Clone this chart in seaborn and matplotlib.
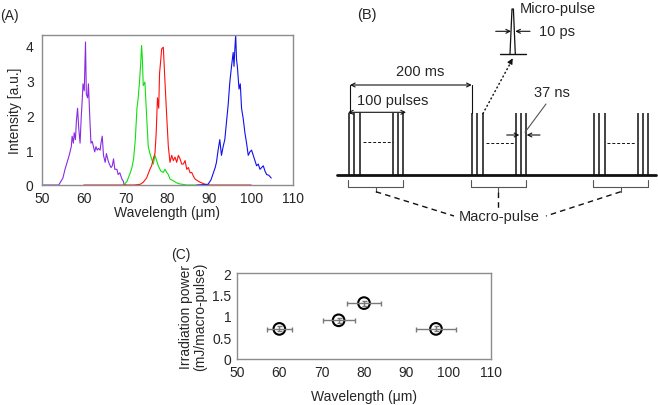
import numpy as np
import pandas as pd
import matplotlib
matplotlib.use("Agg")
import matplotlib.pyplot as plt
import seaborn as sns

sns.set_style("white")
plt.rcParams['font.family'] = ['Liberation Sans', 'DejaVu Sans']
plt.rcParams['font.size'] = 10

# ---- panel A: spectra
purple_wl = [50, 54, 54.4, 55, 55.5, 56, 56.5, 57, 57.2, 57.5, 57.7, 58, 58.2, 58.5, 58.8, 59.1, 59.4, 59.6, 59.8, 60.1, 60.4,
             60.6, 60.9, 61.1, 61.4, 61.7, 62.0, 62.3, 62.6, 62.9, 63.2, 63.5, 63.9, 64.1, 64.4, 64.7, 65.1, 65.4, 65.8,
             66.1, 66.5, 66.8, 67.1, 67.4, 67.9, 68.2, 68.6, 69.1, 69.4, 69.6, 70]
purple_int = [0, 0, 0.08, 0.2, 0.45, 0.65, 0.85, 1.1, 1.4, 1.2, 1.5, 1.3, 1.8, 2.2, 1.6, 1.2, 2.0, 2.4, 2.9, 2.7, 4.1,
              2.6, 2.5, 2.9, 2.0, 1.2, 1.25, 1.1, 0.95, 1.1, 1.0, 1.05, 1.0, 1.2, 1.4, 0.85, 0.65, 0.9, 0.7,
              0.6, 0.5, 0.55, 0.75, 0.45, 0.45, 0.3, 0.35, 0.17, 0.12, 0.03, 0]

green_wl = [69.5, 70.3, 71.1, 71.5, 71.9, 72.3, 72.7, 73.0, 73.3, 73.6, 73.8, 74.0, 74.2, 74.6, 75.0, 75.4, 75.8, 76.2,
            76.6, 77.0, 77.4, 77.8, 78.4, 79.0, 79.4, 79.8, 80.2, 80.6, 81.4, 82.2, 83.0, 84.6, 87]
green_int = [0, 0.1, 0.35, 0.5, 0.75, 1.3, 2.2, 2.5, 2.95, 3.5, 4.0, 3.6, 2.85, 2.95, 2.0, 1.1, 0.9, 0.75,
             0.6, 0.85, 0.7, 0.55, 0.4, 0.36, 0.45, 0.36, 0.3, 0.17, 0.12, 0.06, 0.03, 0, 0]

red_wl = [60, 72, 73.5, 74.2, 75.0, 75.8, 76.2, 76.6, 77.0, 77.3, 77.6, 77.9, 78.1, 78.4, 78.6, 79.0, 79.4, 79.8, 80.2,
          80.6, 81.0, 81.4, 81.8, 82.2, 82.6, 83.0, 83.4, 83.8, 84.2, 84.6, 85.0, 85.4, 85.8, 86.2, 86.6, 87.2, 87.8,
          89.0, 90, 100]
red_int = [0, 0, 0.02, 0.08, 0.2, 0.45, 0.55, 0.75, 0.9, 1.5, 2.5, 2.2, 3.2, 3.6, 3.9, 3.95, 2.95, 2.0, 1.1,
           0.65, 0.85, 0.7, 0.8, 0.65, 0.85, 0.75, 0.6, 0.6, 0.7, 0.45, 0.5, 0.35, 0.36, 0.25, 0.17, 0.12, 0.08,
           0.02, 0, 0]

blue_wl = [87, 89.7, 90.4, 91.0, 91.4, 91.7, 92.1, 92.5, 92.9, 93.3, 93.7, 94.1, 94.5, 94.9, 95.3, 95.7, 95.9, 96.1,
           96.3, 96.5, 96.7, 97.1, 97.4, 97.7, 98.1, 98.5, 98.9, 99.3, 99.7, 100.1, 100.5, 100.9, 101.3, 101.7, 102.1,
           102.5, 102.9, 103.3, 103.7, 104.2, 104.8]
blue_int = [0, 0.02, 0.15, 0.36, 0.5, 0.65, 1.0, 1.3, 0.85, 1.1, 1.3, 1.8, 2.3, 2.95, 3.4, 3.8, 3.4, 3.9,
            4.3, 3.6, 3.4, 2.75, 2.9, 2.2, 1.9, 1.5, 1.2, 0.85, 0.95, 1.0, 0.85, 0.7, 0.55, 0.6, 0.45,
            0.5, 0.55, 0.4, 0.3, 0.28, 0.2]

spectra = [(purple_wl, purple_int, '#8a2be2'), (green_wl, green_int, '#10e010'),
           (red_wl, red_int, '#ff1010'), (blue_wl, blue_int, '#1010f0')]

# ---- panel C: irradiation power
c_wavelength = [60, 74, 80, 97]
c_power = [0.7, 0.9, 1.3, 0.7]
c_wl_err = [3.0, 3.8, 4.0, 4.8]
c_pow_err = [0.06, 0.06, 0.06, 0.06]

# ---- panel B schematic (pixel layout of the drawing)
group_x = [349.3, 472.3, 594.3]
pulse_offsets = [0, 5, 10.5, 44, 48.5, 53.5]
pulse_top, base_y = 114, 176

fig = plt.figure(figsize=(6.58, 4.06), dpi=100)
frame_col = '#8c8c8c'

# ================= (A)
axA = fig.add_axes([42/658, 1-186/406, (293-42)/658, (186-36)/406])
for wl, inten, col in spectra:
    sns.lineplot(x=wl, y=inten, ax=axA, color=col, lw=0.8, sort=False, estimator=None)
axA.set_xlim(50, 110)
axA.set_ylim(0, 4.3)
axA.set_xticks(range(50, 111, 10))
axA.set_yticks(range(0, 5))
axA.set_yticks(np.arange(0, 4.3, 0.5), minor=True)
axA.tick_params(direction='in', length=3, color=frame_col, labelsize=10)
axA.tick_params(axis='y', pad=6)
axA.tick_params(axis='x', pad=4)
axA.tick_params(which='minor', direction='in', length=3, color=frame_col)
for s in axA.spines.values():
    s.set_color(frame_col)
    s.set_linewidth(1)
axA.set_xlabel('Wavelength (\u03bcm)', fontsize=10, labelpad=0)
axA.set_ylabel('Intensity [a.u.]', fontsize=10, labelpad=3)
fig.text(9/658, 1-16/406, '(A)', fontsize=10, ha='center', va='center')

# ================= (C)
axC = fig.add_axes([237/658, 1-360/406, (491-237)/658, (360-274)/406])
axC.errorbar(c_wavelength, c_power, xerr=c_wl_err, yerr=c_pow_err, fmt='none',
             ecolor='#7a7a7a', elinewidth=1, capsize=1.8, capthick=1, zorder=3)
sns.scatterplot(x=c_wavelength, y=c_power, ax=axC, marker='o', s=70,
                facecolor='none', edgecolor='black', linewidth=1.5, zorder=2)
axC.set_xlim(50, 110)
axC.set_ylim(0, 2)
axC.set_xticks(range(50, 111, 10))
axC.set_yticks([0, 0.5, 1, 1.5, 2])
axC.set_yticklabels(['0', '0.5', '1', '1.5', '2'])
axC.tick_params(direction='in', length=3, color=frame_col, labelsize=10, pad=4)
for s in axC.spines.values():
    s.set_color(frame_col)
    s.set_linewidth(1)
axC.set_xlabel('Wavelength (\u03bcm)', fontsize=10, labelpad=7.5)
axC.set_ylabel('Irradiation power\n(mJ/macro-pulse)', fontsize=10, labelpad=4, linespacing=1.0)
fig.text(181/658, 1-255/406, '(C)', fontsize=10, ha='center', va='center')

# ================= (B) schematic in pixel coords
axB = fig.add_axes([0, 0, 1, 1], zorder=5)
axB.set_xlim(0, 658)
axB.set_ylim(406, 0)
axB.axis('off')
axB.patch.set_alpha(0)

lc = '#111111'
axB.plot([337, 656], [base_y, base_y], color=lc, lw=2)
for g in group_x:
    axB.vlines([g + o for o in pulse_offsets], pulse_top, base_y, color=lc, lw=1.1)
dash_spans = [(363, 392.7, 143.3), (485.7, 514, 144.3), (606.7, 636, 144.3)]
for x0, x1, yy in dash_spans:
    axB.plot([x0, x1], [yy, yy], color=lc, lw=0.7, ls=(0, (3, 2)))

# brackets under the macro-pulses
brackets = [(348.3, 403.3), (470.7, 526), (593.3, 648.3)]
for x0, x1 in brackets:
    xc = (x0 + x1) / 2
    axB.plot([x0, x0, x1, x1], [180.7, 187.7, 187.7, 180.7], color='#555555', lw=0.8)
    axB.plot([xc, xc], [187.7, 192.7], color='#555555', lw=0.8)
xc1 = sum(brackets[0]) / 2
xc2 = sum(brackets[1]) / 2
xc3 = sum(brackets[2]) / 2
axB.plot([xc1, 454], [192.7, 217], color=lc, lw=1, ls=(0, (4, 3)))
axB.plot([xc2, xc2], [192.7, 211], color=lc, lw=1, ls=(0, (4, 3)))
axB.plot([xc3, 546], [192.7, 217], color=lc, lw=1, ls=(0, (4, 3)))
axB.text(499, 217, 'Macro-pulse', fontsize=10.5, ha='center', va='center')

arr = dict(arrowstyle='<->', color=lc, lw=0.8, shrinkA=0, shrinkB=0, mutation_scale=7)
axB.annotate('', xy=(471.7, 86), xytext=(350, 86), arrowprops=arr)
axB.plot([350, 350], [86, 114], color=lc, lw=0.8)
axB.plot([471.7, 471.7], [86, 114], color=lc, lw=0.8)
axB.text(420, 72, '200 ms', fontsize=10.5, ha='center', va='center')
axB.annotate('', xy=(406, 113.3), xytext=(348, 113.3), arrowprops=arr)
axB.text(357, 100.5, '100 pulses', fontsize=10.5, ha='left', va='center')

# micro-pulse inset
axB.plot([500, 526], [55, 55], color=lc, lw=1)
axB.plot([510, 512, 513.4, 515.3], [55, 10, 10, 55], color=lc, lw=0.9)
axB.text(520, 8.5, 'Micro-pulse', fontsize=10.5, ha='left', va='center')
one = dict(arrowstyle='->', color=lc, lw=0.8, shrinkA=0, shrinkB=0, mutation_scale=7)
axB.annotate('', xy=(511, 32.3), xytext=(495.7, 32.3), arrowprops=one)
axB.annotate('', xy=(515.3, 32.3), xytext=(530, 32.3), arrowprops=one)
axB.text(539, 32.3, '10 ps', fontsize=10.5, ha='left', va='center')
axB.plot([482.7, 511], [115, 63], color=lc, lw=1, ls=(0, (1.5, 1.5)))
axB.annotate('', xy=(512.7, 59.3), xytext=(510.5, 63.3),
             arrowprops=dict(arrowstyle='-|>', color=lc, lw=0.8, shrinkA=0, shrinkB=0, mutation_scale=8))

# 37 ns
axB.plot([546, 525], [105, 133.3], color='#555555', lw=0.8)
axB.annotate('', xy=(519.3, 136), xytext=(506.7, 136), arrowprops=one)
axB.annotate('', xy=(526.7, 136), xytext=(540, 136), arrowprops=one)
axB.text(551.5, 93.3, '37 ns', fontsize=10.5, ha='center', va='center')
axB.text(367, 15, '(B)', fontsize=10.5, ha='center', va='center')

fig.savefig('out.png', dpi=100)
